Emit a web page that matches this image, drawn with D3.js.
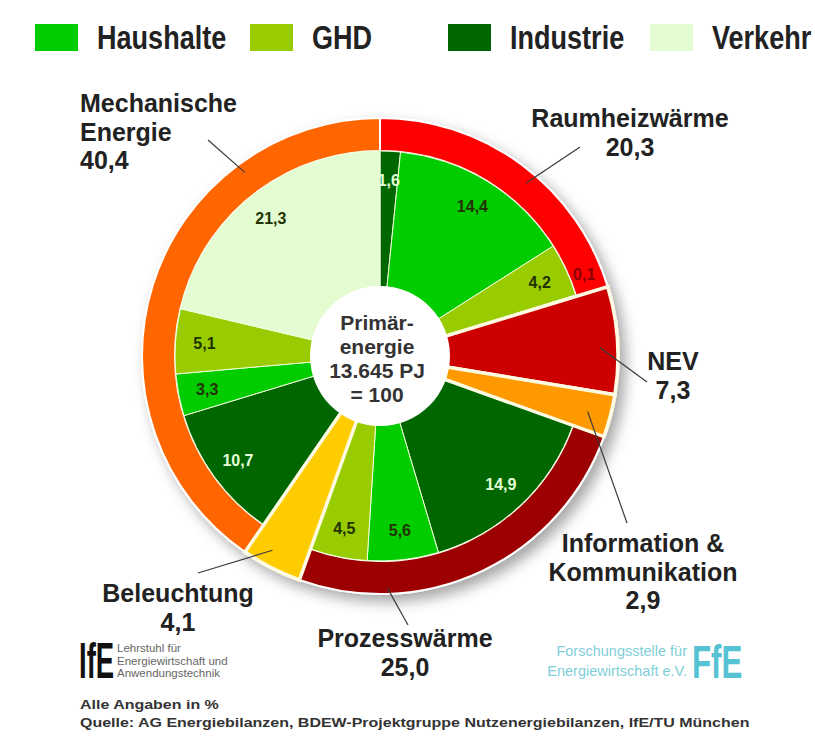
<!DOCTYPE html>
<html>
<head>
<meta charset="utf-8">
<script src="https://cdn.jsdelivr.net/npm/d3@7"></script>
<style>
  body { margin: 0; background: #fff; }
  svg { display: block; font-family: "Liberation Sans", Arial, sans-serif; }
</style>
</head>
<body>
<div id="chart"></div>
<script>
// sectors (inner wedges)
const sectors      = ["Haushalte", "GHD", "Industrie", "Verkehr"];
const sectorColors = ["#00cc00", "#99cc00", "#006600", "#e3fcd2"];

// applications (outer ring), clockwise from 12 o'clock
const uses      = ["Raumheizwärme", "NEV", "Information & Kommunikation", "Prozesswärme", "Beleuchtung", "Mechanische Energie"];
const useValues = [20.3, 7.3, 2.9, 25.0, 4.1, 40.4];
const useColors = ["#ff0000", "#cc0000", "#ff9900", "#9c0000", "#ffcc00", "#ff6600"];

// breakdown of each application by sector ("" = not split)
const splitUse    = ["Raumheizwärme", "Raumheizwärme", "Raumheizwärme", "Raumheizwärme",
                     "NEV", "Information & Kommunikation",
                     "Prozesswärme", "Prozesswärme", "Prozesswärme",
                     "Beleuchtung",
                     "Mechanische Energie", "Mechanische Energie", "Mechanische Energie", "Mechanische Energie"];
const splitSector = ["Industrie", "Haushalte", "GHD", "Verkehr",
                     "", "",
                     "Industrie", "Haushalte", "GHD",
                     "",
                     "Industrie", "Haushalte", "GHD", "Verkehr"];
const splitValues = [1.6, 14.4, 4.2, 0.1,
                     7.3, 2.9,
                     14.9, 5.6, 4.5,
                     4.1,
                     10.7, 3.3, 5.1, 21.3];

const centerLines = ["Primär-", "energie", "13.645 PJ", "= 100"];
const footnotes   = ["Alle Angaben in %", "Quelle: AG Energiebilanzen, BDEW-Projektgruppe Nutzenergiebilanzen, IfE/TU München"];

const width = 815, height = 736;
const cx = 380, cy = 356, R = 238, rIn = 205, rHole = 70;

const de = d3.formatLocale({ decimal: ",", thousands: ".", grouping: [3], currency: ["", " €"] });
const fmt = de.format(".1f");

const sectorColor = d3.scaleOrdinal().domain(sectors).range(sectorColors);
const useColor    = d3.scaleOrdinal().domain(uses).range(useColors);

const svg = d3.select("#chart").append("svg")
  .attr("width", width).attr("height", height)
  .attr("viewBox", [0, 0, width, height]);

const defs = svg.append("defs");
defs.append("filter").attr("id", "shadow")
  .attr("x", "-20%").attr("y", "-20%").attr("width", "140%").attr("height", "140%")
  .append("feDropShadow")
    .attr("dx", 6).attr("dy", 7).attr("stdDeviation", 7)
    .attr("flood-color", "#000").attr("flood-opacity", 0.35);

// legend
const legendX = [35, 250, 448, 650];
const legend = svg.append("g").selectAll("g")
  .data(sectors)
  .join("g")
    .attr("transform", (d, i) => `translate(${legendX[i]},24)`);
legend.append("rect")
  .attr("width", 43).attr("height", 27)
  .attr("fill", d => sectorColor(d));
legend.append("text")
  .attr("transform", "translate(62,25) scale(0.82,1)")
  .attr("font-size", 33).attr("font-weight", "bold").attr("fill", "#222")
  .text(d => d);

// pie
const pie = d3.pie().sort(null).value(d => d.v);
const useArcs = pie(uses.map((u, i) => ({ use: u, v: useValues[i] })));
const splitArcs = pie(splitValues.map((v, i) => ({ use: splitUse[i], sector: splitSector[i], v })));

const ringArc  = d3.arc().innerRadius(rIn).outerRadius(R);
const innerArc = d3.arc().innerRadius(0).outerRadius(rIn);
const fullArc  = d3.arc().innerRadius(0).outerRadius(R);

const g = svg.append("g").attr("transform", `translate(${cx},${cy})`);
const shade = g.append("g").attr("filter", "url(#shadow)");

const splitUses = new Set(splitArcs.filter(a => a.data.sector).map(a => a.data.use));

shade.selectAll("path.ring")
  .data(useArcs.filter(a => splitUses.has(a.data.use)))
  .join("path")
    .attr("class", "ring")
    .attr("d", ringArc)
    .attr("fill", d => useColor(d.data.use))
    .attr("stroke", "#fff").attr("stroke-width", 2);

shade.selectAll("path.slice")
  .data(splitArcs.filter(a => a.data.sector))
  .join("path")
    .attr("class", "slice")
    .attr("d", innerArc)
    .attr("fill", d => sectorColor(d.data.sector))
    .attr("stroke", "#f2ffdc").attr("stroke-width", 1);

shade.selectAll("path.whole")
  .data(splitArcs.filter(a => !a.data.sector))
  .join("path")
    .attr("class", "whole")
    .attr("d", fullArc)
    .attr("fill", d => useColor(d.data.use))
    .attr("stroke", "#fffbe2").attr("stroke-width", 3.5);

g.append("circle").attr("r", rHole).attr("fill", "#fff");

g.append("g")
  .attr("text-anchor", "middle").attr("font-size", 21).attr("font-weight", "bold").attr("fill", "#333")
  .selectAll("text")
  .data(centerLines)
  .join("text")
    .attr("x", -3)
    .attr("y", (d, i) => -26 + i * 24)
    .text(d => d);

// values inside the wedges (tiny ones sit on the ring)
const labelArc = d3.arc().innerRadius(176).outerRadius(176);
const smallArc = d3.arc().innerRadius(220).outerRadius(220);
g.append("g")
  .attr("text-anchor", "middle").attr("font-size", 16).attr("font-weight", "bold")
  .selectAll("text")
  .data(splitArcs.filter(a => a.data.sector))
  .join("text")
    .attr("transform", d => d.data.v < 1
      ? `translate(${smallArc.centroid({ startAngle: d.startAngle - 0.08, endAngle: d.startAngle - 0.08 })})`
      : `translate(${labelArc.centroid(d)})`)
    .attr("dy", "0.35em")
    .attr("fill", d => d.data.v < 1 ? "#8a0000" : d.data.sector === "Industrie" ? "#e4ffd8" : "#233300")
    .text(d => fmt(d.data.v));

// callouts
const callouts = [
  { use: "Mechanische Energie",          x: 80,  y: 112, anchor: "start",  lx: 208, ly: 140, frac: 0.75, r: 228 },
  { use: "Raumheizwärme",                x: 630, y: 127, anchor: "middle", lx: 580, ly: 147, frac: 0.55, r: 226 },
  { use: "NEV",                          x: 673, y: 370, anchor: "middle", lx: 647, ly: 382, frac: 0.56, r: 220 },
  { use: "Information & Kommunikation",  x: 643, y: 552, anchor: "middle", lx: 627, ly: 523, frac: 0.54, r: 215 },
  { use: "Prozesswärme",                 x: 405, y: 647, anchor: "middle", lx: 408, ly: 625, frac: 0.76, r: 232 },
  { use: "Beleuchtung",                  x: 178, y: 602, anchor: "middle", lx: 198, ly: 573, frac: 0.62, r: 222 }
];
const lineH = 28.5;

callouts.forEach(c => {
  const a = useArcs.find(d => d.data.use === c.use);
  const t = a.startAngle + c.frac * (a.endAngle - a.startAngle);
  svg.append("line")
    .attr("x1", c.lx).attr("y1", c.ly)
    .attr("x2", cx + c.r * Math.sin(t)).attr("y2", cy - c.r * Math.cos(t))
    .attr("stroke", "#3a3a3a").attr("stroke-width", 1.2);

  const lines = c.use.replace(/ (?!&)/g, "\n").split("\n").concat(fmt(a.data.v));
  svg.append("text")
    .attr("text-anchor", c.anchor)
    .attr("font-size", 25).attr("font-weight", "bold").attr("fill", "#222")
    .selectAll("tspan")
    .data(lines)
    .join("tspan")
      .attr("x", c.x)
      .attr("y", (d, i) => c.y + i * lineH)
      .text(d => d);
});

// logos
svg.append("text")
  .attr("transform", "translate(79,678) scale(0.55,1)")
  .attr("font-size", 50).attr("font-weight", "bold").attr("fill", "#111")
  .text("IfE");
svg.append("g")
  .attr("font-size", 11.5).attr("fill", "#666")
  .selectAll("text")
  .data(["Lehrstuhl für", "Energiewirtschaft und", "Anwendungstechnik"])
  .join("text")
    .attr("x", 117).attr("y", (d, i) => 652 + i * 12.5)
    .text(d => d);

svg.append("g")
  .attr("text-anchor", "end").attr("font-size", 14.5).attr("fill", "#7fcfd9")
  .selectAll("text")
  .data(["Forschungsstelle für", "Energiewirtschaft e.V."])
  .join("text")
    .attr("x", 687).attr("y", (d, i) => 656 + i * 20)
    .text(d => d);
svg.append("text")
  .attr("transform", "translate(692,678) scale(0.68,1)")
  .attr("font-size", 46).attr("font-weight", "bold").attr("fill", "#56c2d4")
  .text("FfE");

// footnotes
svg.append("g")
  .attr("font-size", 13).attr("font-weight", "bold").attr("fill", "#333")
  .selectAll("text")
  .data(footnotes)
  .join("text")
    .attr("transform", (d, i) => `translate(80,${709 + i * 18}) scale(1.23,1)`)
    .text(d => d);
</script>
</body>
</html>
